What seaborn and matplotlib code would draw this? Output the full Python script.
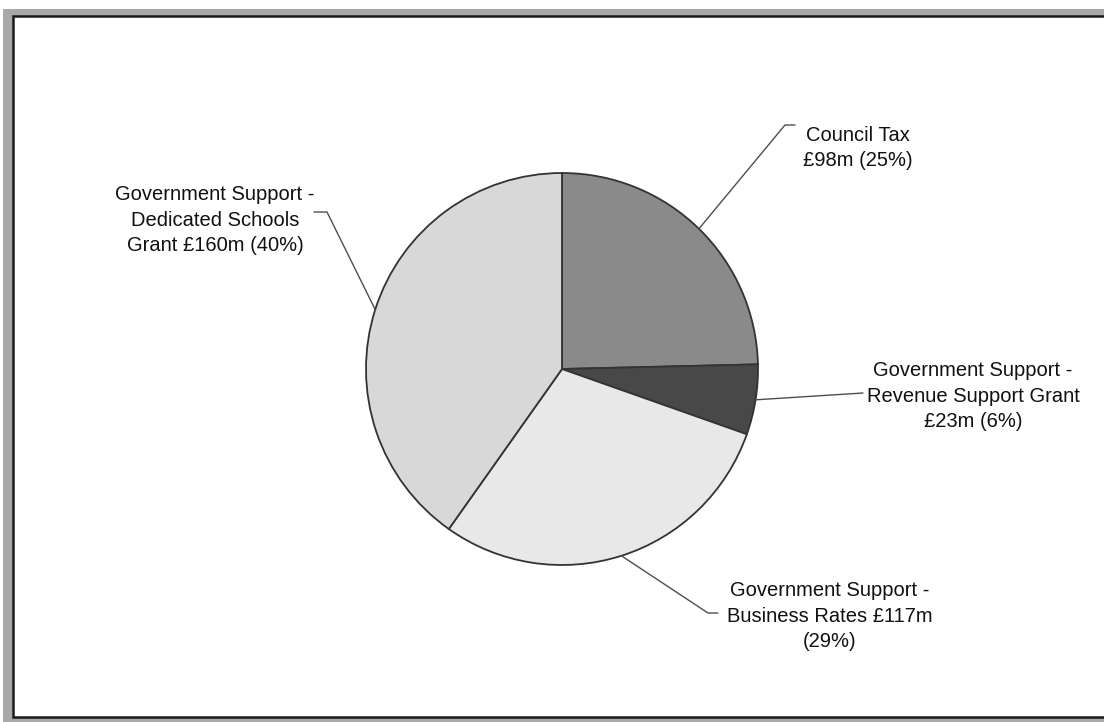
import numpy as np
import matplotlib
matplotlib.use("Agg")
import matplotlib.pyplot as plt
from matplotlib.patches import Rectangle
import seaborn as sns

# Funding sources (£m), clockwise from 12 o'clock
sources = [
    "Council Tax",
    "Government Support - Revenue Support Grant",
    "Government Support - Business Rates",
    "Government Support - Dedicated Schools Grant",
]
amounts = [98, 23, 117, 160]
shares = [25, 6, 29, 40]
label_texts = [
    "Council Tax\n£98m (25%)",
    "Government Support -\nRevenue Support Grant\n£23m (6%)",
    "Government Support -\nBusiness Rates £117m\n(29%)",
    "Government Support -\nDedicated Schools\nGrant £160m (40%)",
]
fill_colors = ["#8a8a8a", "#484848", "#e8e8e8", "#d8d8d8"]

sns.set_theme(style="white")
plt.rcParams["font.family"] = ["Liberation Sans", "DejaVu Sans"]

W, H = 1104, 722
fig = plt.figure(figsize=(W / 100, H / 100), dpi=100)
ax = fig.add_axes([0, 0, 1, 1])

# chart frame
ax.add_patch(Rectangle((3, 0), W + 20, H - 9, facecolor="#a8a8a8", edgecolor="none", zorder=0))
ax.add_patch(Rectangle((13, 5), W + 20, H - 21, facecolor="white", edgecolor="#1a1a1a",
                       linewidth=1.8, zorder=0.5))

cx, cy, r = 562, H - 369, 196
wedges, _ = ax.pie(amounts, colors=fill_colors, startangle=90, counterclock=False,
                   center=(cx, cy), radius=r, frame=True,
                   wedgeprops=dict(edgecolor="#333333", linewidth=1.3))
ax.set_xlim(0, W)
ax.set_ylim(0, H)
ax.set_aspect("equal")
ax.axis("off")

# label layout: elbow point, end of horizontal tick, text centre
layout = [
    ((785, 125), (795, 125), (858, 148)),
    ((863, 393), (863, 393), (973, 396)),
    ((708, 613), (718, 613), (830, 616)),
    ((327, 212), (314, 212), (215, 220)),
]

for w, (elbow, end, txt), text in zip(wedges, layout, label_texts):
    ang = np.deg2rad((w.theta1 + w.theta2) / 2)
    sx, sy = cx + r * np.cos(ang), cy + r * np.sin(ang)
    xs = [sx, elbow[0], end[0]]
    ys = [sy, H - elbow[1], H - end[1]]
    ax.plot(xs, ys, color="#4d4d4d", linewidth=1.0, zorder=3)
    ax.text(txt[0], H - txt[1], text, ha="center", va="center", fontsize=14.5,
            linespacing=1.45, color="#111111", zorder=4)

fig.savefig("out.png", dpi=100)
